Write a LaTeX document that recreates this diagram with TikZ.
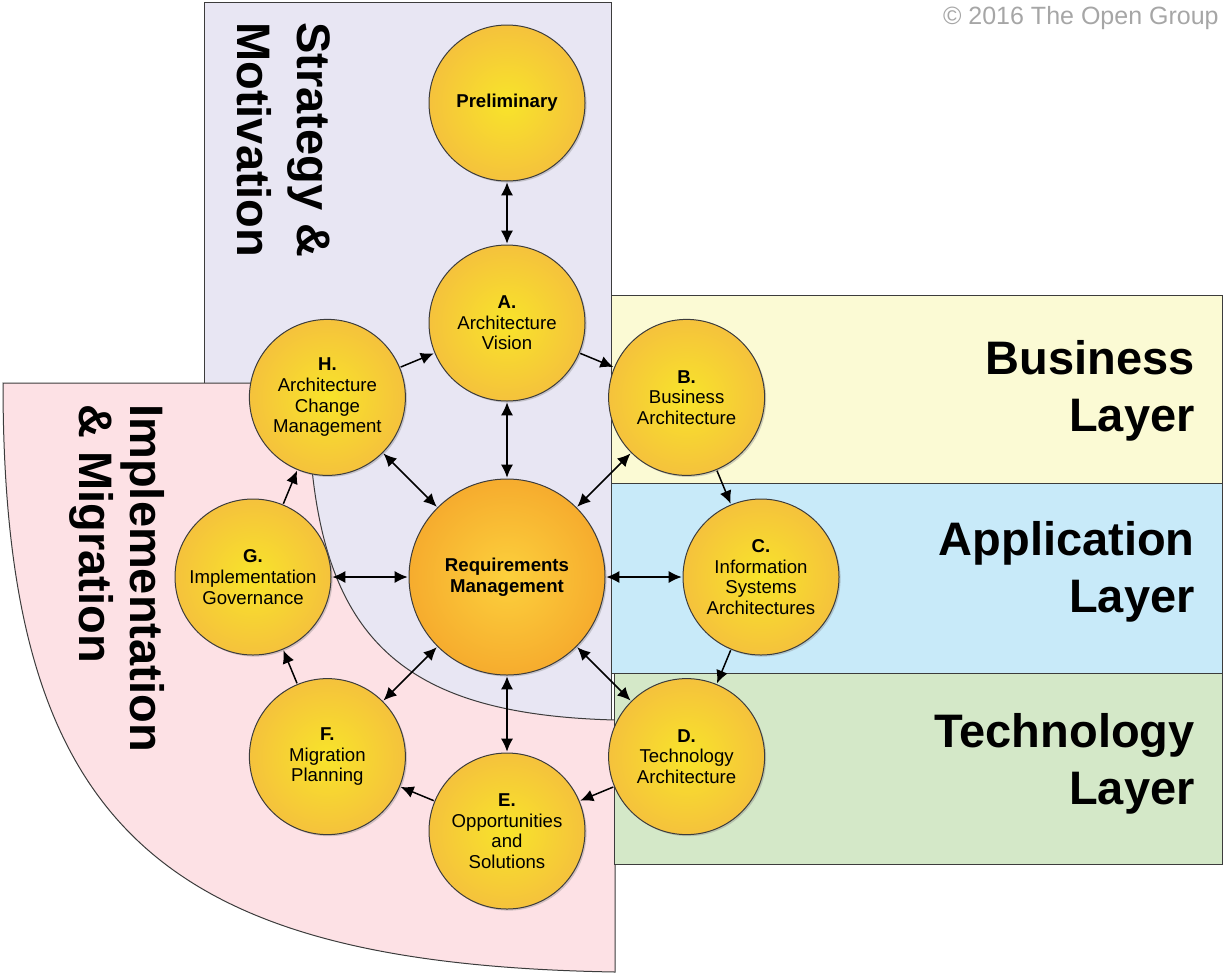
\documentclass[tikz,border=0pt]{standalone}
\usepackage{fontspec}
\setmainfont{Liberation Sans}
\usetikzlibrary{arrows.meta,calc,shadows}

\definecolor{strat}{HTML}{E8E6F3}
\definecolor{impl}{HTML}{FDE1E5}
\definecolor{bizl}{HTML}{FBFAD4}
\definecolor{appl}{HTML}{C8EAF9}
\definecolor{techl}{HTML}{D4E8C8}
\definecolor{edge}{HTML}{3C3C3C}
\definecolor{sunin}{HTML}{F8E42A}
\definecolor{sunout}{HTML}{F5C23C}
\definecolor{reqin}{HTML}{FCD03C}
\definecolor{reqout}{HTML}{F6AC2E}

\tikzstyle{area} = [draw=edge,line width=0.5pt]
\tikzstyle{phase} = [circle,draw=edge,line width=0.5pt,minimum size=78pt,inner sep=0,align=center,inner color=sunin,outer color=sunout,font=\fontsize{9.3}{10.3}\selectfont,drop shadow={shadow xshift=0.8pt,shadow yshift=-0.8pt,opacity=0.35}]
\tikzstyle{reqm} = [phase,minimum size=98pt,inner color=reqin,outer color=reqout,font=\fontsize{9.3}{10.3}\selectfont\bfseries]
\tikzstyle{link} = [line width=0.75pt,>={Latex[length=6.5pt,width=6pt]},shorten >=0.4pt,shorten <=0.4pt]
\tikzstyle{layer} = [inner sep=0,align=right,anchor=east,font=\fontsize{23.5}{28.5}\selectfont\bfseries]
\tikzstyle{side} = [inner sep=0,align=left,anchor=north west,rotate=-90,font=\fontsize{23.5}{30}\selectfont\bfseries]
\def \ring {254}

\begin{document}
\begin{tikzpicture}[x=0.5pt,y=0.5pt]
  \useasboundingbox (0,0) rectangle (1224,-975);
  % viewpoint areas
  \draw[area,fill=strat] (204,-2) rectangle (611,-730);
  \draw[area,fill=impl] (3,-383) -- (308,-383) .. controls (308,-630) and (388,-714) .. (615,-720)
    -- (615,-972) .. controls (158,-964) and (3,-826) .. (3,-383) -- cycle;
  \draw[area,fill=bizl] (611,-295) rectangle (1222,-483);
  \draw[area,fill=appl] (611,-483) rectangle (1222,-673);
  \draw[area,fill=techl] (614,-673) rectangle (1222,-864);

  \node[layer] (biz) at (1195,-391) {Business\\Layer};
  \node[layer] (app) at (1195,-572) {Application\\Layer};
  \node[layer] (tech) at (1195,-764) {Technology\\Layer};
  \node[side] (stratlbl) at (331,-22) {Strategy \&\\Motivation};
  \node[side,font=\fontsize{23.5}{25.5}\selectfont\bfseries] (impllbl) at (165,-404) {Implementation\\\& Migration};
  \node[anchor=base east,inner sep=0,text=black!35,font=\fontsize{12.5}{15}\selectfont] (copy) at (1219,-24) {\textcopyright{} 2016 The Open Group};

  % phases
  \node[reqm] (req) at (507,-577) {Requirements\\Management};
  \node[phase] (a) at ($(req)+(90:\ring)$) {\textbf{A.}\\Architecture\\Vision};
  \node[phase] (b) at ($(req)+(45:\ring)$) {\textbf{B.}\\Business\\Architecture};
  \node[phase] (c) at ($(req)+(0:\ring)$) {\textbf{C.}\\Information\\Systems\\Architectures};
  \node[phase] (d) at ($(req)+(-45:\ring)$) {\textbf{D.}\\Technology\\Architecture};
  \node[phase] (e) at ($(req)+(-90:\ring)$) {\textbf{E.}\\Opportunities\\and\\Solutions};
  \node[phase] (f) at ($(req)+(-135:\ring)$) {\textbf{F.}\\Migration\\Planning};
  \node[phase] (g) at ($(req)+(180:\ring)$) {\textbf{G.}\\Implementation\\Governance};
  \node[phase] (h) at ($(req)+(135:\ring)$) {\textbf{H.}\\Architecture\\Change\\Management};
  \node[phase,font=\fontsize{9.3}{10.3}\selectfont\bfseries] (pre) at ($(a)+(0,220)$) {Preliminary};

  % links
  \draw[link,<->] (pre) -- (a);
  \draw[link,<->] (a) -- (req);
  \foreach \p in {b,c,d,e,f,g,h}
    \draw[link,<->] (req) -- (\p);
  \foreach \s/\t in {h/a,a/b,b/c,c/d,d/e,e/f,f/g,g/h}
    \draw[link,->] (\s) -- (\t);
\end{tikzpicture}
\end{document}
